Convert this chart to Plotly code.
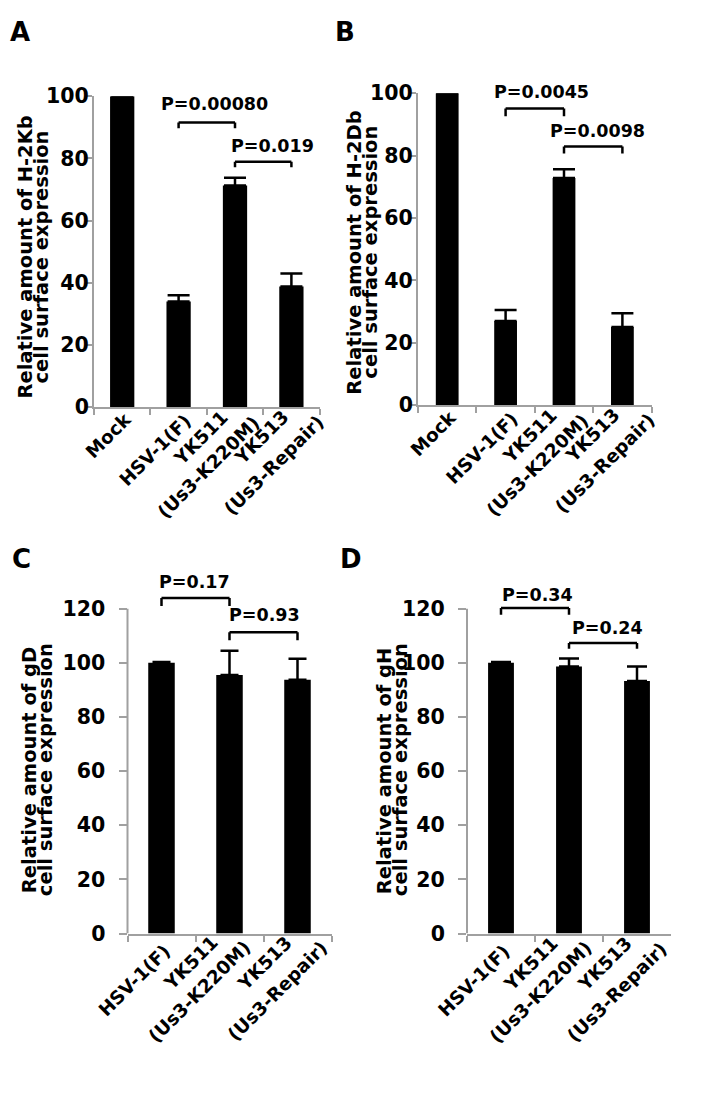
import plotly.graph_objects as go

W, H = 711, 1104
FONT = "DejaVu Sans"
GRAY = "#a0a0a0"

# ---------------- data ----------------
cats_ab = ["Mock", "HSV-1(F)", "YK511", "YK513"]
cats_cd = ["HSV-1(F)", "YK511", "YK513"]
label_lines = {
    "Mock": ["Mock"],
    "HSV-1(F)": ["HSV-1(F)"],
    "YK511": ["YK511", "(Us3-K220M)"],
    "YK513": ["YK513", "(Us3-Repair)"],
}

h2kb_mean = [100, 34.0, 71.3, 38.8]
h2kb_err = [None, 2.0, 2.5, 4.2]
h2db_mean = [100, 27.0, 72.8, 25.1]
h2db_err = [None, 3.5, 2.8, 4.4]
gd_mean = [100, 95.5, 93.8]
gd_err = [0.3, 9.0, 7.7]
gh_mean = [100, 98.7, 93.3]
gh_err = [0.3, 2.9, 5.4]

pvals_a = ["P=0.00080", "P=0.019"]
pvals_b = ["P=0.0045", "P=0.0098"]
pvals_c = ["P=0.17", "P=0.93"]
pvals_d = ["P=0.34", "P=0.24"]

yticks_ab = [0, 20, 40, 60, 80, 100]
yticks_cd = [0, 20, 40, 60, 80, 100, 120]

titles = {
    "A": ["Relative amount of H-2Kb", "cell surface expression"],
    "B": ["Relative amount of H-2Db", "cell surface expression"],
    "C": ["Relative amount of gD", "cell surface expression"],
    "D": ["Relative amount of gH", "cell surface expression"],
}

# ---------------- layout helpers ----------------
def xdom(a, b):
    return [a / W, b / W]

def ydom(top, bottom):
    return [1 - bottom / H, 1 - top / H]

lab_ab = {"Mock": [(-14, 28.5)], "HSV-1(F)": [(-24, 43)],
          "YK511": [(-35, 31), (-27, 60)], "YK513": [(-30, 30.5), (-18, 58)]}

panels = [
    dict(name="A", cats=cats_ab, mean=h2kb_mean, err=h2kb_err, pv=pvals_a,
         px=(94, 319.6), py=(86, 404), yr=[0, 100], ticks=yticks_ab, line=True,
         bw=0.43, capw=11, tlen=5, tstand=-6,
         pairs=[(1, 2), (2, 3)], br=[(91.5, 89.7), (78.9, 77.1)],
         pt=[(1.63, 97.4), (2.66, 83.9)],
         title_x=[26, 42], title_y=251, letter=(20, 20), lab_off=lab_ab),
    dict(name="B", cats=cats_ab, mean=h2db_mean, err=h2db_err, pv=pvals_b,
         px=(418, 651.6), py=(83, 402), yr=[0, 100], ticks=yticks_ab, line=True,
         bw=0.39, capw=11, tlen=5, tstand=-6,
         pairs=[(1, 2), (2, 3)], br=[(95.1, 92.6), (82.9, 80.7)],
         pt=[(1.62, 100.2), (2.58, 87.9)],
         title_x=[355, 371], title_y=246, letter=(345, 20), lab_off=lab_ab),
    dict(name="C", cats=cats_cd, mean=gd_mean, err=gd_err, pv=pvals_c,
         px=(127.5, 331.5), py=(593.4, 942), yr=[0, 126], ticks=yticks_cd, line=False,
         bw=0.39, capw=9, tlen=8, tstand=9,
         pairs=[(0, 1), (1, 2)], br=[(124.0, 121.0), (111.3, 108.4)],
         pt=[(0.478, 129.7), (1.52, 117.5)],
         title_x=[29, 45], title_y=775, letter=(21, 559),
         lab_off={"HSV-1(F)": [(-27.5, 46.5)],
                  "YK511": [(-39.5, 29.5), (-30, 58)], "YK513": [(-33, 30), (-20.5, 58)]}),
    dict(name="D", cats=cats_cd, mean=gh_mean, err=gh_err, pv=pvals_d,
         px=(467, 671), py=(593.4, 942), yr=[0, 126], ticks=yticks_cd, line=False,
         bw=0.38, capw=10, tlen=8, tstand=9,
         pairs=[(0, 1), (1, 2)], br=[(120.3, 117.8), (107.3, 105.2)],
         pt=[(0.544, 125.0), (1.56, 112.8)],
         title_x=[384, 400], title_y=775, letter=(351, 559),
         lab_off={"HSV-1(F)": [(-27, 47)],
                  "YK511": [(-39, 30.5), (-29, 58.5)], "YK513": [(-33, 30.5), (-20.5, 58.5)]}),
]

fig = go.Figure()
shapes = []
annotations = []
layout_axes = {}

bold = dict(family=FONT, color="black", weight="bold")

for i, p in enumerate(panels):
    k = "" if i == 0 else str(i + 1)
    xa, ya = "x" + k, "y" + k
    n = len(p["cats"])
    ppu = (p["py"][1] - p["py"][0]) / (p["yr"][1] - p["yr"][0])  # pixels per data unit
    fig.add_trace(go.Bar(
        x=p["cats"], y=p["mean"], width=p["bw"],
        marker=dict(color="black", line=dict(width=0)),
        error_y=dict(type="data", symmetric=False, array=p["err"], arrayminus=[0] * n,
                     color="black", thickness=2.5, width=p["capw"]),
        xaxis=xa, yaxis=ya, showlegend=False, hoverinfo="skip",
    ))
    layout_axes["xaxis" + k] = dict(
        domain=xdom(*p["px"]), anchor=ya, type="category", range=[-0.5, n - 0.5],
        showline=True, linecolor=GRAY, linewidth=2, ticks="outside", tickson="boundaries",
        ticklen=6, tickwidth=2, tickcolor=GRAY, showticklabels=False,
        showgrid=False, zeroline=False, fixedrange=True,
    )
    layout_axes["yaxis" + k] = dict(
        domain=ydom(*p["py"]), anchor=xa, range=p["yr"], tickvals=p["ticks"],
        ticks="outside", ticklen=p["tlen"], tickwidth=2, tickcolor=GRAY,
        ticklabelstandoff=p["tstand"],
        showline=p["line"], linecolor=GRAY, linewidth=2,
        tickfont=dict(size=20.5, **bold), showgrid=False, zeroline=False, fixedrange=True,
    )
    if not p["line"]:
        shapes.append(dict(type="line", xref="paper", yref=ya, x0=p["px"][0] / W, x1=p["px"][0] / W,
                           y0=p["ticks"][0], y1=p["ticks"][-1], line=dict(color=GRAY, width=2)))
    # brackets
    for (a, b), (top, leg) in zip(p["pairs"], p["br"]):
        for x0, y0, x1, y1 in [(a, leg, a, top), (a, top, b, top), (b, top, b, leg)]:
            shapes.append(dict(type="line", xref=xa, yref=ya, x0=x0, y0=y0, x1=x1, y1=y1,
                               line=dict(color="black", width=2.5)))
    for txt, (tx, ty), (top, leg) in zip(p["pv"], p["pt"], p["br"]):
        annotations.append(dict(xref=xa, yref=ya, x=tx, y=top, yshift=(ty - top) * ppu,
                                text=txt, showarrow=False,
                                xanchor="center", yanchor="middle", font=dict(size=17.5, **bold)))
    # x category labels (rotated, centred lines)
    for c in p["cats"]:
        for line, (dx, dy) in zip(label_lines[c], p["lab_off"][c]):
            annotations.append(dict(xref=xa, yref=ya, x=c, y=0, text=line, showarrow=False,
                                    textangle=-45, xanchor="center", yanchor="middle",
                                    xshift=dx, yshift=-dy, font=dict(size=18.5, **bold)))
    # y titles
    for line, tx in zip(titles[p["name"]], p["title_x"]):
        annotations.append(dict(xref="paper", yref="paper", x=tx / W, y=1 - p["title_y"] / H,
                                text=line, showarrow=False, textangle=-90,
                                xanchor="center", yanchor="middle", font=dict(size=19.5, **bold)))
    # panel letter
    lx, ly = p["letter"]
    annotations.append(dict(xref="paper", yref="paper", x=lx / W, y=1 - ly / H,
                            text=p["name"], showarrow=False, xanchor="center", yanchor="middle",
                            font=dict(size=26, **bold)))

fig.update_layout(
    width=W, height=H, margin=dict(l=0, r=0, t=0, b=0),
    paper_bgcolor="white", plot_bgcolor="white",
    shapes=shapes, annotations=annotations, **layout_axes,
)

fig.write_html("out.html", config={"displayModeBar": False},
               post_script="document.body.style.margin='0';document.body.style.padding='0';")
